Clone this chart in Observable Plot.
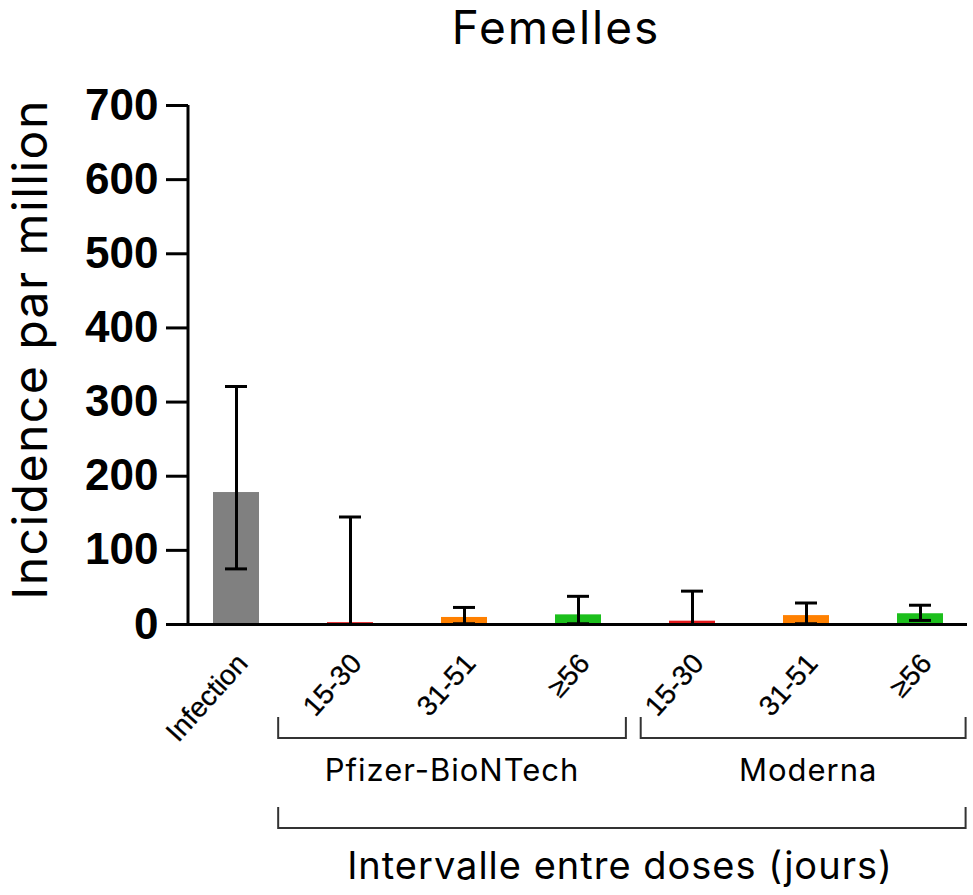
<!DOCTYPE html>
<html>
<head>
<meta charset="utf-8">
<script src="https://cdn.jsdelivr.net/npm/d3@7"></script>
<script src="https://cdn.jsdelivr.net/npm/@observablehq/plot@0.6"></script>
<style>
  html, body { margin: 0; padding: 0; background: #fff; }
</style>
</head>
<body>
<div id="chart"></div>
<script>
// ---- data ----
const categories = ["Infection", "P 15-30", "P 31-51", "P ≥56", "M 15-30", "M 31-51", "M ≥56"];
const tickLabels = ["Infection", "15-30", "31-51", "≥56", "15-30", "31-51", "≥56"];
const incidence = [178, 2.5, 9.5, 13, 4.5, 12, 14.5];
const lower = [75, 0, 1, 1, 0, 1, 5.5];
const upper = [321, 145, 23, 38, 45, 29, 26];
const interval = ["Infection", "15-30", "31-51", "≥56", "15-30", "31-51", "≥56"];
const yTicks = [0, 100, 200, 300, 400, 500, 600, 700];
const title = "Femelles";
const yLabel = "Incidence par million";
const groups = ["Pfizer-BioNTech", "Moderna"];
const xLabel = "Intervalle entre doses (jours)";

const colorDomain = ["Infection", "15-30", "31-51", "≥56"];
const colorRange = ["#808080", "#e31a1c", "#ff8000", "#1cbf1c"];

const data = categories.map((c, i) => ({
  cat: c, label: tickLabels[i], value: incidence[i], lo: lower[i], hi: upper[i], interval: interval[i]
}));

const plot = Plot.plot({
  width: 973,
  height: 895,
  marginTop: 105,
  marginBottom: 271,
  marginLeft: 188,
  marginRight: 6,
  style: { background: "#fff", fontFamily: "'Liberation Sans', Arial, sans-serif", color: "#000", overflow: "visible" },
  x: { domain: categories, paddingInner: 0.6, paddingOuter: 0.21, label: null, axis: null },
  y: { domain: [0, 700], label: null },
  color: { domain: colorDomain, range: colorRange },
  marks: [
    Plot.barY(data, { x: "cat", y: "value", fill: "interval" }),
    Plot.ruleX(data, { x: "cat", y1: "lo", y2: "hi", stroke: "#000", strokeWidth: 3 }),
    Plot.tickY(data, { x: "cat", y: "hi", stroke: "#000", strokeWidth: 3, insetLeft: 12, insetRight: 12 }),
    Plot.tickY(data, { x: "cat", y: "lo", stroke: "#000", strokeWidth: 3, insetLeft: 12, insetRight: 12 }),
    Plot.ruleY([0], { stroke: "#000", strokeWidth: 3 }),
    Plot.axisY({ ticks: yTicks, tickSize: 22, tickPadding: 8, fontSize: 44, fontWeight: "bold", strokeWidth: 3, label: null, tickFormat: d => String(d) }),
    Plot.text(data, { x: "cat", y: () => 0, text: "label", rotate: -48, textAnchor: "end", lineAnchor: "middle", fontSize: 28, dx: 6, dy: 34, fill: "#000", stroke: "#000", strokeWidth: 0.3 })
  ]
});

document.getElementById("chart").appendChild(plot);

const svg = d3.select(plot);
const xs = plot.scale("x");
const ys = plot.scale("y");
const center = c => xs.apply(c) + xs.bandwidth / 2;
const step = xs.step;
const textFont = "Inter, 'Open Sans', sans-serif";

// y axis line
svg.append("line")
  .attr("x1", 188).attr("x2", 188)
  .attr("y1", ys.apply(700)).attr("y2", ys.apply(0))
  .attr("stroke", "#000").attr("stroke-width", 3);

// title
svg.append("text")
  .attr("x", 556).attr("y", 44)
  .attr("text-anchor", "middle")
  .attr("font-family", textFont).attr("font-size", 46)
  .attr("letter-spacing", 2)
  .attr("fill", "#000")
  .text(title);

// y label
svg.append("text")
  .attr("transform", `translate(47, ${(ys.apply(0) + ys.apply(700)) / 2 - 15}) rotate(-90)`)
  .attr("text-anchor", "middle")
  .attr("font-family", textFont).attr("font-size", 48)
  .attr("letter-spacing", 1.5)
  .attr("fill", "#000")
  .text(yLabel);

// brackets
function bracket(x1, x2, yTop, yBot) {
  svg.append("path")
    .attr("d", `M${x1},${yTop}V${yBot}H${x2}V${yTop}`)
    .attr("fill", "none").attr("stroke", "#333").attr("stroke-width", 2);
}
const pL = center("P 15-30") - 0.63 * step;
const pR = center("P ≥56") + 0.42 * step;
const mL = center("M 15-30") - 0.45 * step;
const mR = center("M ≥56") + 0.40 * step;
bracket(pL, pR, 717, 738);
bracket(mL, mR, 717, 738);
bracket(pL, mR, 807, 828);

svg.append("text")
  .attr("x", (pL + pR) / 2).attr("y", 781)
  .attr("text-anchor", "middle")
  .attr("font-family", textFont).attr("font-size", 31)
  .attr("letter-spacing", 1)
  .attr("fill", "#000")
  .text(groups[0]);
svg.append("text")
  .attr("x", (mL + mR) / 2 + 5).attr("y", 781)
  .attr("text-anchor", "middle")
  .attr("font-family", textFont).attr("font-size", 31)
  .attr("letter-spacing", 1)
  .attr("fill", "#000")
  .text(groups[1]);
svg.append("text")
  .attr("x", 620).attr("y", 879)
  .attr("text-anchor", "middle")
  .attr("font-family", textFont).attr("font-size", 38)
  .attr("letter-spacing", 1)
  .attr("fill", "#000")
  .text(xLabel);
</script>
</body>
</html>
